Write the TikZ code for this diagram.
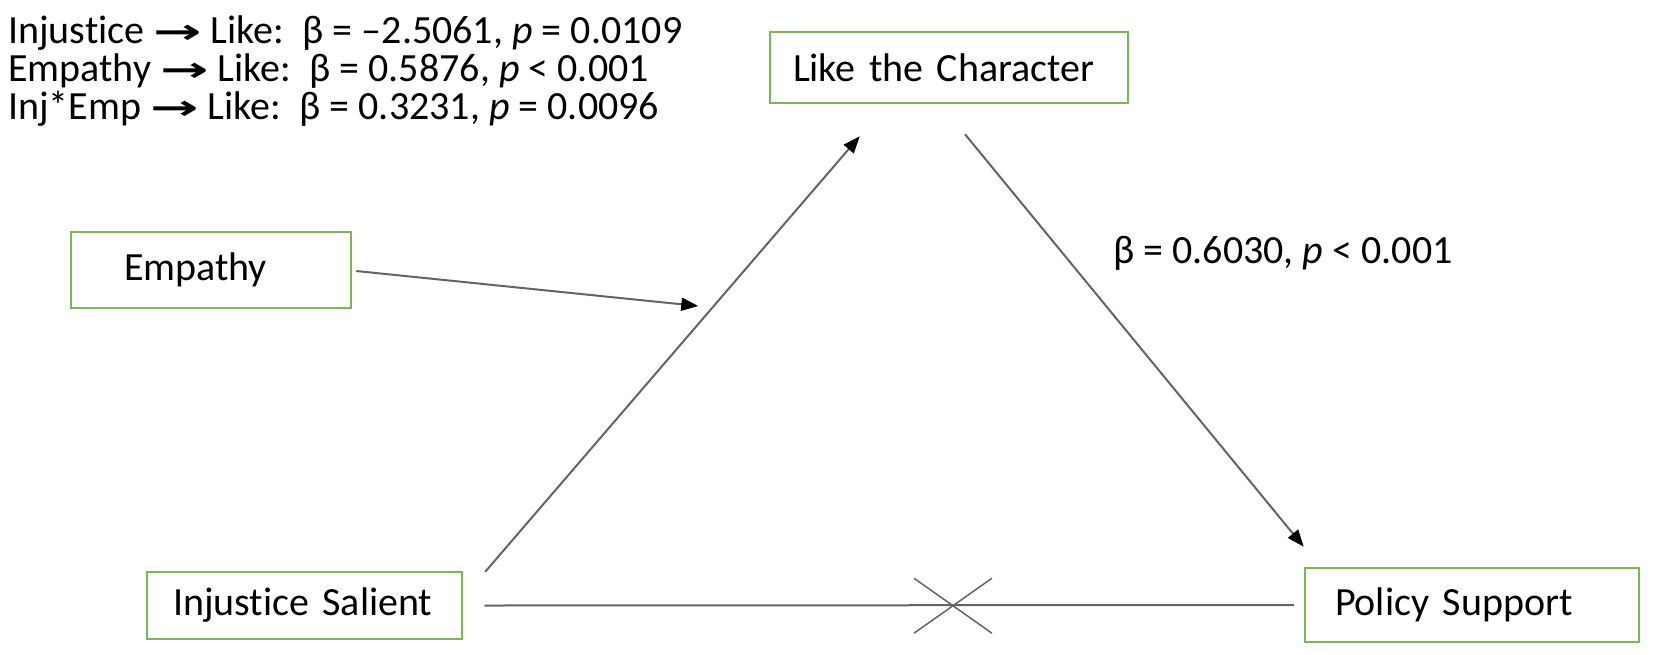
\documentclass[tikz,border=0pt]{standalone}
\usepackage{fontspec}
\setmainfont{Carlito}[Ligatures={NoCommon}]
\newfontfamily\arrowfont{DejaVu Sans}
\definecolor{boxgreen}{RGB}{122, 184, 86}
\definecolor{linegray}{RGB}{100, 100, 100}
\usetikzlibrary{arrows.meta, calc}
\newcommand{\goesto}{{\arrowfont\bfseries\fontsize{34}{34}\selectfont\scalebox{1.7}[1]{→}}}

\begin{document}
\begin{tikzpicture}[
      x=1pt, y=-1pt,
      var/.style={rectangle, draw=boxgreen, line width=2.5pt, align=left,
                  inner ysep=0pt, font=\fontsize{40}{48}\selectfont},
      link/.style={linegray, line width=2pt},
      arr/.style={link, -{Triangle[length=17pt, width=13pt, color=black]}},
      stat/.style={inner sep=0pt, font=\fontsize{40}{38}\selectfont}
    ]
      \useasboundingbox (0,0) rectangle (1653,654);

      % Variables
      \node[var, text width=312pt, inner xsep=23pt, minimum height=71pt] (like) at (949,67.5) {Like the Character};
      \node[var, text width=174pt, inner xsep=53pt, minimum height=76pt] (emp) at (211,270) {Empathy};
      \node[var, text width=263pt, inner xsep=26pt, minimum height=67pt] (inj) at (304.5,605.5) {Injustice Salient};
      \node[var, text width=274pt, inner xsep=30pt, minimum height=74pt] (pol) at (1472,605) {Policy Support};

      % Coefficients
      \node[stat, anchor=north west, align=left] (stats) at (8,16)
        {Injustice \goesto{} Like:\ \ β = –2.5061, \textit{p} = 0.0109\\
         Empathy \goesto{} Like:\ \ β = 0.5876, \textit{p} < 0.001\\
         Inj*Emp \goesto{} Like:\ \ β = 0.3231, \textit{p} = 0.0096};
      \node[stat, anchor=west] (beta) at (1113,253) {β = 0.6030, \textit{p} < 0.001};

      % Line ends
      \coordinate (injout) at ([shift={(22,1)}]inj.north east);
      \coordinate (likein) at ([shift={(91,32)}]like.south west);
      \coordinate (likeout) at ([shift={(16,30)}]like.south);
      \coordinate (polin) at ([shift={(0,-20)}]pol.north west);
      \coordinate (empout) at ([shift={(4,1)}]emp.east);
      \coordinate (modin) at ([shift={(346,36)}]emp.east);
      \coordinate (injright) at ([xshift=21pt]inj.east);
      \coordinate (polleft) at ([xshift=-10pt]pol.west);
      \coordinate (cut) at ($(injright)!0.579!(polleft)$);

      % Arrows
      \draw[arr] (injout) -- (likein);
      \draw[arr] (likeout) -- (polin);
      \draw[arr] (empout) -- (modin);
      \draw[link] (injright) -- (polleft);

      % No direct effect
      \draw[link, line width=1.5pt] ([shift={(-39,28)}]cut) -- ([shift={(39,-27)}]cut);
      \draw[link, line width=1.5pt] ([shift={(-39,-27)}]cut) -- ([shift={(39,28)}]cut);

    \end{tikzpicture}
\end{document}
